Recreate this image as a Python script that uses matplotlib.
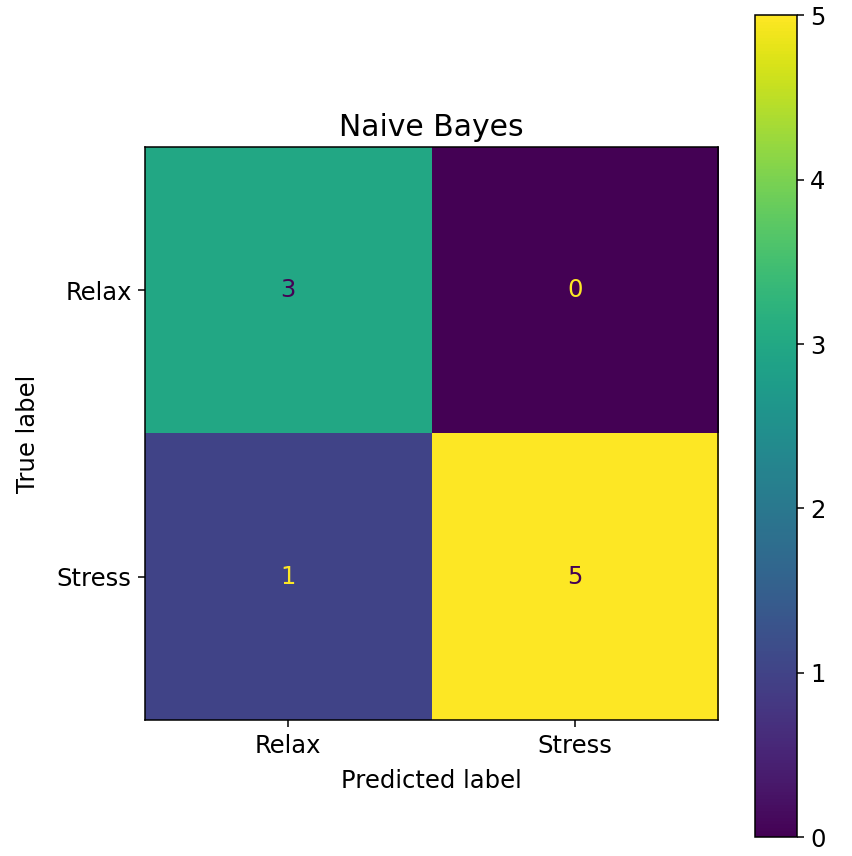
import matplotlib
matplotlib.use("Agg")
import matplotlib.pyplot as plt
import numpy as np

labels = ["Relax", "Stress"]
cm = np.array([[3, 0],
               [1, 5]])
title = "Naive Bayes"

plt.rcParams.update({
    "xtick.major.size": 4.8, "ytick.major.size": 4.8,
    "xtick.major.width": 1.1, "ytick.major.width": 1.1,
    "axes.linewidth": 1.1,
    "xtick.major.pad": 5.5, "ytick.major.pad": 4.8,
})

fig = plt.figure(figsize=(8.53, 8.56), dpi=100)
ax = fig.add_axes([0.170, 0.159, 0.672, 0.669])
cax = fig.add_axes([0.885, 0.022, 0.049, 0.960])

fs = 17.5
cmap = plt.get_cmap("viridis")
im = ax.imshow(cm, cmap=cmap, vmin=cm.min(), vmax=cm.max(), aspect="auto")
thresh = (cm.max() + cm.min()) / 2.0
for i in range(cm.shape[0]):
    for j in range(cm.shape[1]):
        color = cmap(0.0) if cm[i, j] > thresh else cmap(1.0)
        ax.text(j, i, str(cm[i, j]), ha="center", va="center", color=color, fontsize=fs)

ax.set_xticks(range(len(labels)))
ax.set_xticklabels(labels, fontsize=fs)
ax.set_yticks(range(len(labels)))
ax.set_yticklabels(labels, fontsize=fs)
ax.set_xlabel("Predicted label", fontsize=fs, labelpad=8)
ax.set_ylabel("True label", fontsize=fs, labelpad=12)
ax.set_title(title, fontsize=21.5, pad=8)

cb = fig.colorbar(im, cax=cax)
cb.ax.tick_params(labelsize=fs)
cb.outline.set_linewidth(1.1)
cb.set_ticks([0, 1, 2, 3, 4, 5])

fig.savefig("out.png", dpi=100)
